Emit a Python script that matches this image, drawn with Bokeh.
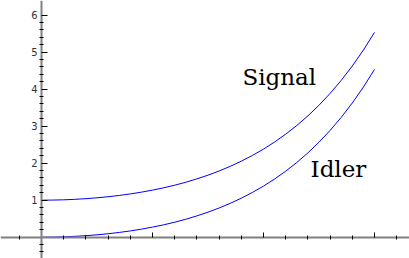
from bokeh.plotting import figure
from bokeh.models import FixedTicker, Range1d, Label
from bokeh.embed import file_html
from bokeh.resources import INLINE

# data
x_vals = [0.0, 0.05, 0.1, 0.15, 0.2, 0.25, 0.3, 0.35, 0.4, 0.45, 0.5, 0.55, 0.6, 0.65, 0.7, 0.75,
          0.8, 0.85, 0.9, 0.95, 1.0, 1.05, 1.1, 1.15, 1.2, 1.25, 1.3, 1.35, 1.4, 1.45, 1.5]
signal = [1.000, 1.003, 1.010, 1.023, 1.041, 1.064, 1.093, 1.128, 1.169, 1.217, 1.272, 1.334,
          1.405, 1.485, 1.576, 1.676, 1.789, 1.914, 2.054, 2.209, 2.381, 2.572, 2.784, 3.019,
          3.279, 3.566, 3.885, 4.237, 4.626, 5.057, 5.534]
idler = [0.000, 0.003, 0.010, 0.023, 0.041, 0.064, 0.093, 0.128, 0.169, 0.217, 0.272, 0.334,
         0.405, 0.485, 0.576, 0.676, 0.789, 0.914, 1.054, 1.209, 1.381, 1.572, 1.784, 2.019,
         2.279, 2.566, 2.885, 3.237, 3.626, 4.057, 4.534]

y_major = [1, 2, 3, 4, 5, 6]
y_minor = [-0.4, -0.2, 0.2, 0.4, 0.6, 0.8, 1.2, 1.4, 1.6, 1.8, 2.2, 2.4, 2.6, 2.8, 3.2, 3.4,
           3.6, 3.8, 4.2, 4.4, 4.6, 4.8, 5.2, 5.4, 5.6, 5.8]
x_major = [0.5, 1.0, 1.5]
x_minor = [-0.1, 0.1, 0.2, 0.3, 0.4, 0.6, 0.7, 0.8, 0.9, 1.1, 1.2, 1.3, 1.4, 1.6]

labels = ["Signal", "Idler"]
label_x = [0.905, 1.212]
label_y = [4.32, 1.85]

W, H = 409, 258
p = figure(width=W, height=H, output_backend="svg", toolbar_location=None,
           x_range=Range1d(-0.1847, 1.6577), y_range=Range1d(-0.576, 6.397),
           min_border=0, min_border_left=0, min_border_right=0,
           min_border_top=0, min_border_bottom=0)
p.outline_line_color = None
p.grid.visible = False
p.background_fill_color = "white"
p.border_fill_color = "white"

p.line(x_vals, signal, line_color="#0000ff", line_width=1)
p.line(x_vals, idler, line_color="#0000ff", line_width=1)

for t, lx, ly in zip(labels, label_x, label_y):
    p.add_layout(Label(x=lx, y=ly, text=t, text_font="DejaVu Serif",
                       text_font_size="23px", text_color="black",
                       text_baseline="alphabetic"))

# axes crossing at origin
xa = p.xaxis[0]
ya = p.yaxis[0]
xa.fixed_location = 0
ya.fixed_location = 0
xa.ticker = FixedTicker(ticks=x_major, minor_ticks=x_minor)
ya.ticker = FixedTicker(ticks=y_major, minor_ticks=y_minor)
xa.major_label_overrides = {v: "" for v in x_major}
for ax in (xa, ya):
    ax.axis_line_color = "#808080"
    ax.axis_line_width = 2
    ax.major_tick_line_color = "black"
    ax.minor_tick_line_color = "black"
    ax.major_tick_in = 5
    ax.major_tick_out = 0
    ax.minor_tick_in = 2
    ax.minor_tick_out = 2
ya.major_tick_in = 6
ya.major_label_text_font = "DejaVu Sans"
ya.major_label_text_font_size = "10px"
ya.major_label_text_color = "#333333"
ya.major_label_standoff = 2

open("out.html", "w").write(file_html(p, INLINE))
